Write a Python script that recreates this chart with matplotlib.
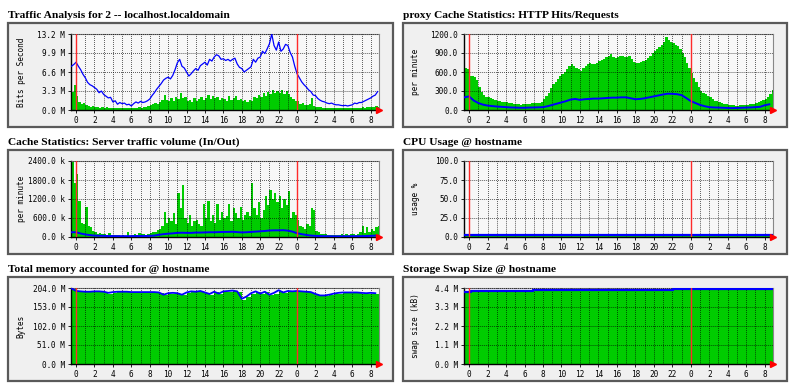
import numpy as np
import matplotlib
matplotlib.use("Agg")
import matplotlib.pyplot as plt
from matplotlib.patches import Rectangle
from matplotlib.ticker import FixedLocator

plt.rcParams['font.family'] = ['DejaVu Sans Mono']

# ---------------- data ----------------
# quarter-hour samples start at -0.5 h, half-hour samples start at -0.5 h
traffic_in = [3.2, 4.3,
    2.4, 1.4, 1.1, 1.2, 0.9, 0.7, 0.6, 0.7,
    0.5, 0.5, 0.4, 0.5, 0.4, 0.5, 0.3, 0.4,
    0.3, 0.4, 0.3, 0.3, 0.3, 0.4, 0.3, 0.3,
    0.3, 0.4, 0.4, 0.5, 0.4, 0.5, 0.6, 0.7,
    0.8, 1.0, 1.2, 1.1, 1.4, 1.8, 2.6, 1.7,
    1.5, 2.0, 1.6, 2.2, 1.9, 3.0, 2.0, 2.3,
    1.5, 1.8, 1.4, 2.0, 1.6, 1.9, 2.2, 1.7,
    2.0, 2.6, 1.9, 2.5, 2.0, 2.3, 1.8, 2.1,
    1.9, 1.6, 2.4, 1.8, 2.1, 2.5, 1.7, 1.9,
    1.6, 1.7, 1.4, 1.8, 1.6, 2.3, 2.0, 2.6,
    2.2, 2.9, 2.5, 3.2, 2.8, 3.4, 2.9, 3.3,
    3.0, 3.4, 2.8, 3.3, 2.7, 2.2, 1.9, 1.6,
    1.5, 1.0, 1.2, 0.9, 0.8, 1.1, 2.0, 0.7,
    0.6, 0.5, 0.5, 0.4, 0.4, 0.4, 0.3, 0.4,
    0.3, 0.3, 0.3, 0.3, 0.3, 0.4, 0.3, 0.3,
    0.3, 0.4, 0.4, 0.4, 0.5, 0.4, 0.5, 0.5,
    0.6, 0.5, 0.7, 0.6]
traffic_out = [7.6, 7.9,
    8.3, 7.6, 7.0, 6.2, 5.6, 4.8, 4.4, 4.2,
    3.9, 3.6, 3.0, 3.3, 2.7, 2.4, 2.1, 2.2,
    1.4, 1.6, 1.0, 1.3, 1.1, 1.2, 0.9, 1.0,
    0.7, 1.1, 1.4, 1.2, 1.5, 1.3, 1.4, 1.6,
    1.9, 2.5, 3.0, 3.6, 4.1, 4.6, 5.2, 5.5,
    5.7, 5.4, 6.0, 7.0, 8.2, 8.8, 7.6, 7.3,
    6.6, 5.9, 6.3, 6.8, 7.2, 6.9, 7.7, 8.0,
    8.3, 7.8, 8.8, 8.5, 9.2, 9.6, 9.4, 8.8,
    8.9, 8.6, 8.8, 8.5, 8.8, 9.0, 8.0, 7.4,
    7.2, 6.6, 6.9, 7.2, 7.5, 8.8, 8.3, 9.0,
    9.2, 10.2, 9.8, 10.6, 11.5, 13.2, 11.2, 10.4,
    11.8, 10.2, 10.6, 11.4, 11.2, 10.0, 9.2, 7.6,
    6.3, 5.6, 4.9, 4.4, 4.0, 3.5, 3.2, 2.6,
    2.5, 2.0, 1.7, 1.5, 1.4, 1.2, 1.1, 1.2,
    1.0, 0.9, 0.9, 0.8, 0.75, 0.8, 0.7, 0.8,
    0.9, 1.2, 1.1, 1.3, 1.3, 1.5, 1.7, 1.9,
    2.1, 2.4, 2.6, 3.2]

http_requests = [670, 640,
    540, 530, 520, 470, 360, 280, 230, 210,
    200, 185, 170, 160, 145, 135, 130, 125,
    120, 115, 110, 100, 95, 90, 85, 90,
    95, 100, 95, 105, 110, 105, 110, 130,
    170, 220, 275, 340, 405, 450, 485, 530,
    565, 600, 640, 690, 720, 700, 670, 640,
    615, 660, 695, 720, 745, 730, 720, 750,
    770, 790, 810, 830, 860, 880, 840, 820,
    830, 850, 860, 840, 830, 850, 800, 760,
    740, 745, 760, 770, 790, 820, 850, 900,
    930, 960, 990, 1030, 1070, 1150, 1110, 1080,
    1060, 1030, 1010, 960, 900, 830, 745, 670,
    590, 510, 435, 360, 300, 270, 250, 225,
    200, 170, 150, 135, 120, 110, 100, 90,
    80, 75, 72, 70, 70, 72, 75, 78,
    80, 90, 95, 100, 110, 125, 145, 160,
    170, 210, 250, 320]
http_hits = [200, 215, 150, 110, 85, 70, 62, 55, 50, 45, 40, 38, 35, 35, 38, 40,
    42, 45, 60, 80, 100, 120, 140, 165, 175, 160, 170, 175, 180, 180, 185, 190,
    195, 195, 200, 200, 185, 170, 175, 185, 200, 215, 230, 245, 258, 255, 250, 235,
    190, 140, 110, 80, 60, 45, 40, 38, 35, 32, 30, 32, 35, 38, 40, 45,
    50, 75, 90]

server_in = [2400, 1700,
    2000, 1150, 450, 400, 950, 350, 300, 200,
    150, 100, 120, 80, 100, 60, 120, 60,
    60, 50, 60, 40, 50, 40, 150, 40,
    50, 80, 60, 120, 80, 100, 70, 90,
    120, 160, 150, 220, 250, 350, 800, 450,
    600, 500, 750, 400, 1400, 900, 1650, 600,
    450, 700, 350, 500, 550, 400, 350, 1050,
    600, 1150, 500, 700, 450, 1050, 550, 800,
    600, 650, 1050, 500, 900, 750, 600, 950,
    550, 700, 800, 650, 1700, 900, 700, 1100,
    600, 850, 1300, 1000, 1500, 1200, 1400, 1100,
    1300, 900, 1200, 1000, 1450, 600, 800, 700,
    550, 350, 300, 250, 400, 350, 900, 850,
    200, 150, 100, 80, 100, 60, 50, 60,
    50, 60, 50, 100, 60, 80, 60, 100,
    80, 60, 100, 150, 350, 120, 300, 150,
    250, 200, 300, 350]
server_out = [150, 150, 110, 80, 60, 45, 40, 35, 30, 30, 28, 28, 28, 28, 30, 30,
    32, 35, 45, 70, 90, 105, 115, 130, 135, 130, 130, 140, 140, 145, 150, 150,
    155, 160, 160, 165, 155, 145, 150, 160, 170, 180, 190, 205, 210, 210, 215, 200,
    170, 120, 90, 65, 45, 35, 30, 25, 25, 22, 22, 22, 22, 25, 25, 28,
    30, 35, 45]

cpu_hours = [-0.5, 8, 16, 24, 33]
cpu_user = [1.3, 1.3, 1.3, 1.3, 1.3]
cpu_total = [3.0, 3.0, 3.0, 3.0, 3.0]

mem_total = [203, 196, 195, 194, 194, 195, 195, 194, 191, 193, 194, 194, 194, 193, 193, 193,
    193, 193, 193, 192, 186, 190, 191, 190, 186, 192, 195, 194, 196, 192, 188, 194,
    189, 195, 196, 197, 195, 175, 181, 190, 195, 189, 194, 186, 191, 198, 192, 196,
    195, 196, 195, 194, 193, 188, 184, 184, 186, 189, 191, 192, 192, 192, 192, 191,
    190, 191, 190]
mem_used = [201, 194, 193, 192, 192, 193, 193, 192, 189, 191, 192, 192, 192, 191, 191, 191,
    191, 191, 191, 190, 184, 188, 189, 188, 184, 190, 193, 192, 194, 190, 186, 192,
    187, 193, 194, 195, 193, 173, 179, 188, 193, 187, 192, 184, 189, 196, 190, 194,
    193, 194, 193, 192, 191, 186, 182, 182, 184, 187, 189, 190, 190, 190, 190, 189,
    188, 189, 188]

swap_hours = [-0.5, 0.25, 6.9, 14.9, 15.2, 15.4, 19.0, 19.5, 20.6, 22.1, 24.6, 33.0]
swap_total = [4.15, 4.21, 4.27, 4.30, 4.27, 4.30, 4.31, 4.30, 4.28, 4.33, 4.37, 4.37]
swap_used = [4.11, 4.17, 4.23, 4.26, 4.23, 4.26, 4.27, 4.26, 4.24, 4.29, 4.33, 4.33]

titles = ["Traffic Analysis for 2 -- localhost.localdomain",
          "proxy Cache Statistics: HTTP Hits/Requests",
          "Cache Statistics: Server traffic volume (In/Out)",
          "CPU Usage @ hostname",
          "Total memory accounted for @ hostname",
          "Storage Swap Size @ hostname"]
ylabels = ["Bits per Second", "per minute", "per minute", "usage %", "Bytes", "swap size (kB)"]
ymaxes = [13.2, 1200, 2400, 100, 204, 4.4]
ytick_labels = [["0.0 M", "3.3 M", "6.6 M", "9.9 M", "13.2 M"],
                ["0.0", "300.0", "600.0", "900.0", "1200.0"],
                ["0.0 k", "600.0 k", "1200.0 k", "1800.0 k", "2400.0 k"],
                ["0.0", "25.0", "50.0", "75.0", "100.0"],
                ["0.0 M", "51.0 M", "102.0 M", "153.0 M", "204.0 M"],
                ["0.0 M", "1.1 M", "2.2 M", "3.3 M", "4.4 M"]]
xtick_hours = list(range(0, 33, 2))
xtick_labels = ["0", "2", "4", "6", "8", "10", "12", "14", "16", "18", "20", "22",
                "0", "2", "4", "6", "8"]

GREEN = "#00cc00"
BLUE = "#0000ff"
RED = "#ff2a2a"

W, H = 800, 390
fig = plt.figure(figsize=(8, 3.9), dpi=100)
fig.patch.set_facecolor("white")

col_plot_x = [71, 464]
col_plot_w = [308, 309]
col_box = [(8, 393), (403, 787)]
row_plot_top = [34, 161, 288]
plot_h = 76
XMIN, XMAX = -0.55, 32.9


def px_axes(x0, ytop, w, h):
    return fig.add_axes([x0 / W, 1 - (ytop + h) / H, w / W, h / H])


def quarter_x(vals):
    return -0.5 + 0.25 * np.arange(len(vals))


def half_x(vals):
    return -0.5 + 0.5 * np.arange(len(vals))


def fill_steps(ax, x, v, dx):
    x = np.append(x, x[-1] + dx)
    v = np.append(v, v[-1])
    ax.fill_between(x, 0, v, step="post", color=GREEN, lw=0, zorder=1)


axes = []
for i in range(6):
    r, c = divmod(i, 2)
    bx0, bx1 = col_box[c]
    ptop = row_plot_top[r]
    btop, bbot = ptop - 11, ptop + plot_h + 17
    fig.patches.append(Rectangle((bx0 / W, 1 - bbot / H), (bx1 - bx0) / W, (bbot - btop) / H,
                                 transform=fig.transFigure, facecolor="#f0f0f0",
                                 edgecolor="#5a5a5a", lw=1.6, zorder=-5))
    fig.text(bx0 / W, 1 - (btop - 8) / H, titles[i], family="Liberation Serif",
             weight="bold", fontsize=8.2, va="center", ha="left")
    ax = px_axes(col_plot_x[c], ptop, col_plot_w[c], plot_h)
    ax.set_zorder(2)
    ax.set_facecolor("#f7f7f7")
    ax.set_xlim(XMIN, XMAX)
    ax.set_ylim(0, ymaxes[i])
    ax.set_yticks(np.linspace(0, ymaxes[i], 5))
    ax.set_yticklabels(ytick_labels[i])
    ax.set_xticks(xtick_hours)
    ax.set_xticklabels(xtick_labels)
    ax.xaxis.set_minor_locator(FixedLocator(list(range(1, 33, 2))))
    ax.tick_params(axis="both", which="both", labelsize=5.6, length=2.5, width=0.6,
                   pad=1.8, color="black")
    ax.tick_params(axis="x", which="minor", length=0)
    ax.set_axisbelow(False)
    ax.xaxis.grid(True, which="both", color="black", linestyle=(0, (1, 1.6)), lw=0.55)
    ax.yaxis.grid(True, which="major", color="black", linestyle=(0, (1, 1.6)), lw=0.55)
    for s in ["left", "bottom"]:
        ax.spines[s].set_color("black")
        ax.spines[s].set_linewidth(1.0)
    for s in ["top", "right"]:
        ax.spines[s].set_color("#888888")
        ax.spines[s].set_linewidth(0.8)
    ylab_x = (bx0 + 13) / W
    fig.text(ylab_x, 1 - (ptop + plot_h / 2) / H, ylabels[i], rotation=90,
             fontsize=5.6, va="center", ha="center")
    axes.append(ax)

# panel 1: traffic
ax = axes[0]
fill_steps(ax, quarter_x(traffic_in), traffic_in, 0.25)
ax.plot(quarter_x(traffic_out), traffic_out, color=BLUE, lw=0.9, zorder=3)

# panel 2: http
ax = axes[1]
fill_steps(ax, quarter_x(http_requests), http_requests, 0.25)
ax.plot(half_x(http_hits), http_hits, color=BLUE, lw=1.4, zorder=3)

# panel 3: server traffic
ax = axes[2]
fill_steps(ax, quarter_x(server_in), server_in, 0.25)
ax.plot(half_x(server_out), server_out, color=BLUE, lw=1.4, zorder=3)

# panel 4: cpu
ax = axes[3]
ax.fill_between(cpu_hours, 0, cpu_user, step="post", color=GREEN, lw=0, zorder=1)
ax.plot(cpu_hours, cpu_total, color=BLUE, lw=1.6, drawstyle="steps-post", zorder=3)

# panel 5: memory
ax = axes[4]
fill_steps(ax, half_x(mem_used), mem_used, 0.5)
ax.plot(half_x(mem_total), mem_total, color=BLUE, lw=1.3, zorder=3)

# panel 6: swap
ax = axes[5]
ax.fill_between(swap_hours, 0, swap_used, step="post", color=GREEN, lw=0, zorder=1)
ax.plot(swap_hours, swap_total, color=BLUE, lw=1.6, drawstyle="steps-post", zorder=3)

for ax in axes:
    ax.axvline(0, color=RED, lw=1.0, zorder=4)
    ax.axvline(24, color=RED, lw=1.0, zorder=4)
    ax.plot([XMAX], [0], marker=">", color="#ff0000", markersize=4, clip_on=False, zorder=5)

fig.savefig("out.png", dpi=100)
